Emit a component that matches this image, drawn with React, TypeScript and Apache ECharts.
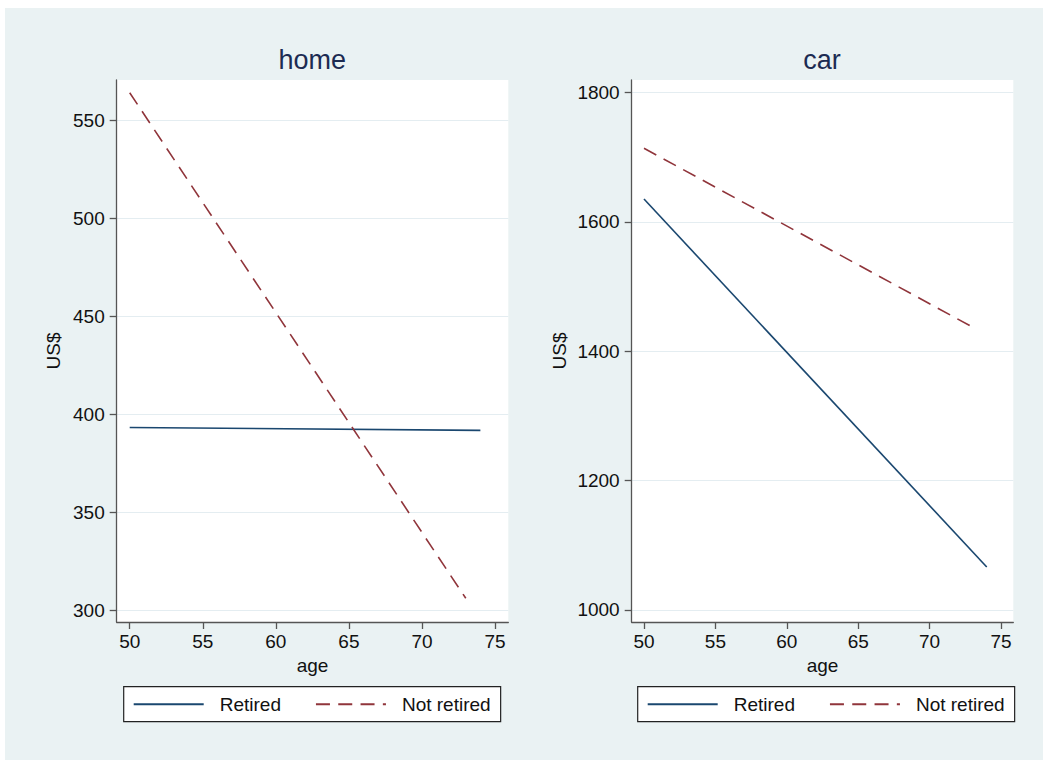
import React, { useEffect, useRef } from "react";
import * as echarts from "echarts";

// ---- data ----
const SERIES_NAMES = ["Retired", "Not retired"];
const HOME_RETIRED_AGE = [50, 74];
const HOME_RETIRED_VAL = [393.3, 391.8];
const HOME_NOTRET_AGE = [50, 73];
const HOME_NOTRET_VAL = [564.3, 306.0];
const CAR_RETIRED_AGE = [50, 74];
const CAR_RETIRED_VAL = [1635.5, 1066.5];
const CAR_NOTRET_AGE = [50, 73];
const CAR_NOTRET_VAL = [1714.0, 1437.5];
const X_TICKS = [50, 55, 60, 65, 70, 75];
const HOME_Y_TICKS = [300, 350, 400, 450, 500, 550];
const CAR_Y_TICKS = [1000, 1200, 1400, 1600, 1800];
const PANEL_TITLES = ["home", "car"];
const X_NAME = "age";
const Y_NAME = "US$";

const FONT = "'Liberation Sans', Arial, Helvetica, sans-serif";
const BG = "#eaf2f3";
const NAVY = "#1a476f";
const MAROON = "#90353b";
const AXIS_COLOR = "#555555";
const GRID_LINE = "#e4edf1";
const DASH = [14, 8.3];

const zip = (a: number[], b: number[]) => a.map((x, i) => [x, b[i]]);

export default function App() {
  const ref = useRef<HTMLDivElement>(null);
  useEffect(() => {
    if (!ref.current) return;
    const chart = echarts.init(ref.current, undefined, { renderer: "svg" });

    const xAxisBase = (gridIndex: number, min: number, max: number) => ({
      gridIndex,
      type: "value",
      min,
      max,
      name: X_NAME,
      nameLocation: "middle",
      nameGap: 31,
      nameTextStyle: { fontFamily: FONT, fontSize: 19, color: "#111" },
      axisLine: { show: true, onZero: false, lineStyle: { color: AXIS_COLOR, width: 1.3 } },
      axisTick: { show: true, length: 7, customValues: X_TICKS, lineStyle: { color: AXIS_COLOR, width: 1.3 } },
      axisLabel: {
        customValues: X_TICKS,
        margin: 10,
        fontFamily: FONT,
        fontSize: 19,
        color: "#111",
        formatter: (v: number) => String(v),
      },
      splitLine: { show: false },
    });
    const yAxisBase = (gridIndex: number, min: number, max: number, ticks: number[], nameGap: number) => ({
      gridIndex,
      type: "value",
      min,
      max,
      name: Y_NAME,
      nameLocation: "middle",
      nameGap,
      nameTextStyle: { fontFamily: FONT, fontSize: 19, color: "#111" },
      axisLine: { show: true, onZero: false, lineStyle: { color: AXIS_COLOR, width: 1.3 } },
      axisTick: { show: true, length: 7, customValues: ticks, lineStyle: { color: AXIS_COLOR, width: 1.3 } },
      axisLabel: {
        customValues: ticks,
        margin: 12,
        fontFamily: FONT,
        fontSize: 19,
        color: "#111",
        formatter: (v: number) => String(v),
      },
      splitLine: { show: true, customValues: ticks, lineStyle: { color: GRID_LINE, width: 1 } },
    });

    const legendBase = (left: number) => ({
      left,
      top: 678.7,
      orient: "horizontal",
      data: SERIES_NAMES,
      backgroundColor: "#ffffff",
      borderColor: "#222",
      borderWidth: 1.2,
      borderRadius: 0,
      padding: [8, 10, 8, 9],
      itemWidth: 70,
      itemHeight: 20,
      itemGap: 34,
      itemStyle: { color: "rgba(0,0,0,0)", borderWidth: 0, opacity: 0 },
      textStyle: { fontFamily: FONT, fontSize: 19, color: "#111", padding: [0, 0, 0, 11] },
      selectedMode: false,
    });

    const lineSeries = (name: string, xi: number, data: number[][], color: string, dashed: boolean) => ({
      name,
      type: "line",
      xAxisIndex: xi,
      yAxisIndex: xi,
      data,
      symbol: "none",
      color,
      lineStyle: { color, width: 1.6, type: dashed ? DASH : "solid" },
    });

    chart.setOption({
      animation: false,
      backgroundColor: BG,
      textStyle: { fontFamily: FONT },
      grid: [
        { left: 111.7, top: 72, width: 391.6, height: 542, show: true, backgroundColor: "#fff", borderWidth: 0 },
        { left: 626.7, top: 72, width: 381.6, height: 542, show: true, backgroundColor: "#fff", borderWidth: 0 },
      ],
      xAxis: [xAxisBase(0, 49.11, 75.91), xAxisBase(1, 49.14, 75.86)],
      yAxis: [
        yAxisBase(0, 293.9, 570.8, HOME_Y_TICKS, 54),
        yAxisBase(1, 981.4, 1819.6, CAR_Y_TICKS, 63),
      ],
      legend: [legendBase(118.7), legendBase(632.7)],
      graphic: [
        {
          type: "text",
          x: 307.2,
          y: 52,
          style: { text: PANEL_TITLES[0], font: `27px ${FONT}`, fill: "#1c2b52", textAlign: "center", textVerticalAlign: "middle" },
        },
        {
          type: "text",
          x: 817,
          y: 52,
          style: { text: PANEL_TITLES[1], font: `27px ${FONT}`, fill: "#1c2b52", textAlign: "center", textVerticalAlign: "middle" },
        },
      ],
      series: [
        lineSeries(SERIES_NAMES[0], 0, zip(HOME_RETIRED_AGE, HOME_RETIRED_VAL), NAVY, false),
        lineSeries(SERIES_NAMES[1], 0, zip(HOME_NOTRET_AGE, HOME_NOTRET_VAL), MAROON, true),
        lineSeries(SERIES_NAMES[0], 1, zip(CAR_RETIRED_AGE, CAR_RETIRED_VAL), NAVY, false),
        lineSeries(SERIES_NAMES[1], 1, zip(CAR_NOTRET_AGE, CAR_NOTRET_VAL), MAROON, true),
      ],
    });
    return () => chart.dispose();
  }, []);

  return (
    <div style={{ position: "absolute", left: 0, top: 0, width: 1043, height: 760, background: "#fff" }}>
      <div ref={ref} style={{ position: "absolute", left: 5, top: 8, width: 1038, height: 752 }} />
    </div>
  );
}
